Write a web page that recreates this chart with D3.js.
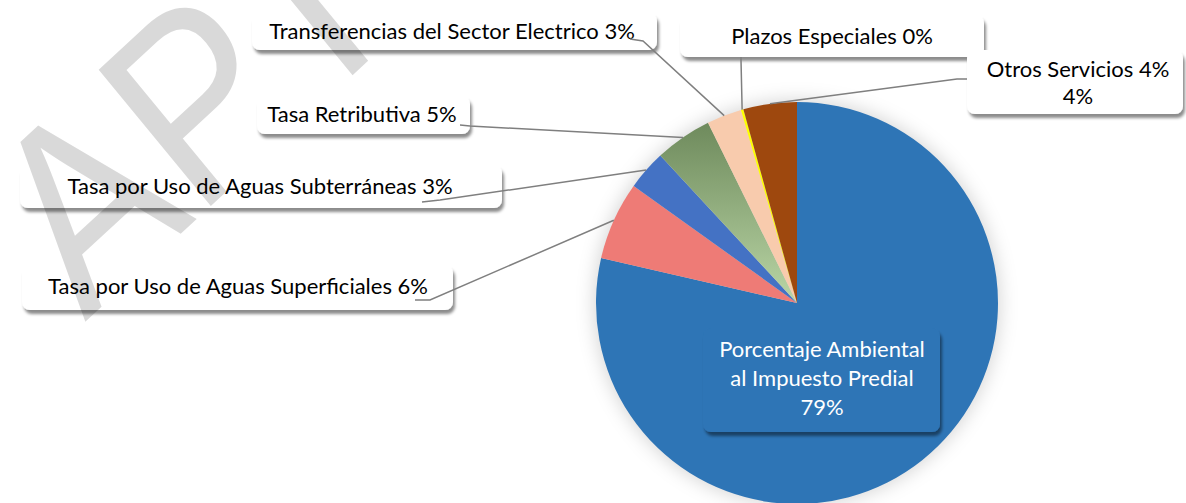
<!DOCTYPE html>
<html>
<head>
<meta charset="utf-8">
<script src="https://cdn.jsdelivr.net/npm/d3@7"></script>
<style>
  html, body { margin: 0; padding: 0; background: #fff; }
  svg { display: block; }
  .lbl { font-family: Lato, "Open Sans", sans-serif; font-size: 22px; fill: #000; }
  .lbl.in { fill: #fff; }
  .wm { font-family: "Liberation Sans", Arial, sans-serif; font-size: 100px; fill: #000; fill-opacity: 0.15; }
</style>
</head>
<body>
<svg id="chart" width="1186" height="503"></svg>
<script>
// Data (shares in %)
const categories = [
    "Porcentaje Ambiental al Impuesto Predial",
    "Tasa por Uso de Aguas Superficiales",
    "Tasa por Uso de Aguas Subterráneas",
    "Tasa Retributiva",
    "Transferencias del Sector Electrico",
    "Plazos Especiales",
    "Otros Servicios 4%"
];
const shares = [78.6, 6.3, 3.2, 4.6, 2.8, 0.2, 4.3];
const sliceColors = ["#2E75B6", "#EE7B76", "#4472C4", "url(#greenGrad)", "#F8CBAD", "#FFFF00", "#9E480E"];

// label box placement (box, text centre/baseline, leader start + elbow)
const labelLayout = [
    {box: [703, 328, 237, 104], tx: 822, ty: 357, lines: 3},
    {box: [22, 265, 431, 45], tx: 238, ty: 294, from: [415, 300], elbow: [430, 300]},
    {box: [20, 165, 482, 43], tx: 260, ty: 194, from: [422, 202], elbow: [440, 200]},
    {box: [257, 96, 213, 38], tx: 362, ty: 122, from: [460, 125], elbow: [470, 126]},
    {box: [252, 13, 405, 37], tx: 452, ty: 39, from: [630, 39], elbow: [643, 41]},
    {box: [680, 15, 304, 42], tx: 832, ty: 44, from: [741, 57], elbow: [741, 60]},
    {box: [967, 50, 216, 64], tx: 1078, ty: 77, from: [967, 79], elbow: [957, 79], lines: 2}
];

const svg = d3.select("#chart");
const cx = 797, cy = 303, radius = 201;

const defs = svg.append("defs");
const grad = defs.append("linearGradient")
    .attr("id", "greenGrad").attr("x1", 0).attr("y1", 0).attr("x2", 0).attr("y2", 1);
grad.append("stop").attr("offset", "0%").attr("stop-color", "#6E8A5C");
grad.append("stop").attr("offset", "100%").attr("stop-color", "#BAD6A6");

const pieShadow = defs.append("filter").attr("id", "pieShadow")
    .attr("x", "-20%").attr("y", "-20%").attr("width", "140%").attr("height", "140%");
pieShadow.append("feGaussianBlur").attr("stdDeviation", 9);

const boxShadow = defs.append("filter").attr("id", "boxShadow")
    .attr("x", "-10%").attr("y", "-30%").attr("width", "120%").attr("height", "170%");
boxShadow.append("feDropShadow")
    .attr("dx", 2).attr("dy", 4).attr("stdDeviation", 1.8)
    .attr("flood-color", "#000").attr("flood-opacity", 0.45);

const total = d3.sum(shares);
const pct = v => Math.round(v / total * 100) + "%";

const pie = d3.pie().sort(null).value(d => d);
const arcs = pie(shares);
const arc = d3.arc().innerRadius(0).outerRadius(radius);

const g = svg.append("g").attr("transform", `translate(${cx},${cy})`);

// soft glow behind the pie
g.append("circle")
    .attr("r", radius + 2)
    .attr("fill", "#000")
    .attr("fill-opacity", 0.16)
    .attr("filter", "url(#pieShadow)");

g.selectAll("path.slice")
    .data(arcs)
    .join("path")
    .attr("class", "slice")
    .attr("d", arc)
    .attr("fill", (d, i) => sliceColors[i]);

// label boxes
const labelText = i => {
    const name = categories[i];
    if (i === 0) return ["Porcentaje Ambiental", "al Impuesto Predial", pct(shares[i])];
    if (labelLayout[i].lines === 2) return [name, pct(shares[i])];
    return [name + " " + pct(shares[i])];
};

const labels = svg.append("g")
    .selectAll("g")
    .data(arcs)
    .join("g");

labels.append("rect")
    .attr("x", d => labelLayout[d.index].box[0])
    .attr("y", d => labelLayout[d.index].box[1])
    .attr("width", d => labelLayout[d.index].box[2])
    .attr("height", d => labelLayout[d.index].box[3])
    .attr("rx", 8)
    .attr("fill", d => d.index === 0 ? "#2E75B6" : "#fff")
    .attr("filter", "url(#boxShadow)");

labels.each(function(d) {
    const L = labelLayout[d.index];
    const t = d3.select(this).append("text")
        .attr("class", d.index === 0 ? "lbl in" : "lbl")
        .attr("text-anchor", "middle");
    labelText(d.index).forEach((line, k) => {
        t.append("tspan")
            .attr("x", L.tx)
            .attr("y", L.ty + k * (d.index === 0 ? 29 : 27))
            .text(line);
    });
});

// leader lines (drawn over the boxes, they start under the value)
const edgePoint = d => {
    const a = (d.startAngle + d.endAngle) / 2;
    return [cx + radius * Math.sin(a), cy - radius * Math.cos(a)];
};

svg.append("g")
    .selectAll("polyline")
    .data(arcs.filter((d, i) => labelLayout[i].from))
    .join("polyline")
    .attr("fill", "none")
    .attr("stroke", "#7F7F7F")
    .attr("stroke-width", 1.5)
    .attr("points", d => {
        const L = labelLayout[d.index];
        return [L.from, L.elbow, edgePoint(d)].map(p => p.join(",")).join(" ");
    });

// watermark (stretched and rotated, only partly inside the picture)
svg.append("text")
    .attr("class", "wm")
    .attr("transform", "matrix(1.68,-1.55,1.63,1.98,85,322)")
    .text("APTO");
</script>
</body>
</html>
